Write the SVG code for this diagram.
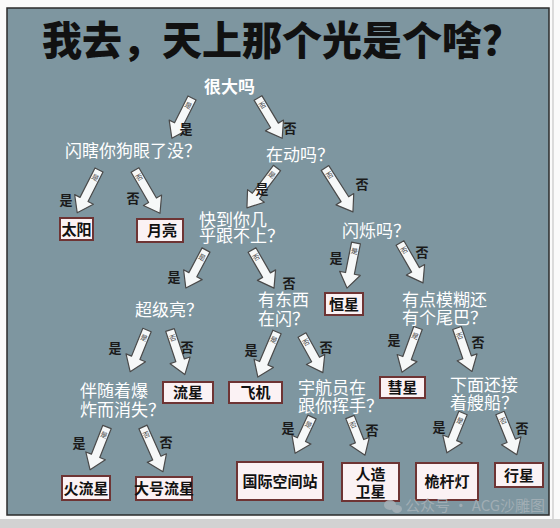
<svg xmlns="http://www.w3.org/2000/svg" width="560" height="528" viewBox="0 0 560 528">
<style>
.title{font-family:"Noto Sans CJK SC","Noto Sans",sans-serif;font-weight:900;font-size:40px;fill:#111}
.q{font-family:"Noto Sans CJK SC","Noto Sans",sans-serif;fill:#fff;font-size:17px}
.lb{font-family:"Noto Sans CJK SC","Noto Sans",sans-serif;font-weight:bold;font-size:13px;fill:#1a1a1a;text-anchor:middle}
.box rect{fill:#fbf2f4;stroke:#6e3434;stroke-width:2}
.box text{font-family:"Noto Sans CJK SC","Noto Sans",sans-serif;font-weight:bold;font-size:15px;fill:#111;text-anchor:middle}
.arw path{fill:#f6f8f8;stroke:#4a4a4a;stroke-width:1.2;stroke-linejoin:round}
.arw text{font-family:"Noto Sans CJK SC",sans-serif;font-size:7px;fill:#444;text-anchor:middle}
.wm{font-family:"Noto Sans CJK SC","Noto Sans",sans-serif;font-size:15px;fill:#a7b2b8}
</style>
<rect width="560" height="528" fill="#fafafa"/>
<rect x="0" y="519" width="560" height="9" fill="#d2d2d2"/>
<line x1="553" y1="0" x2="553" y2="519" stroke="#bbb" stroke-width="1"/>
<rect x="7" y="8" width="542" height="507" fill="#7e96a0" stroke="#2b2b2b" stroke-width="1.5"/>
<text class="title" x="42" y="55">我去，天上那个光是个啥？</text>

<g id="connectors" class="arw">
<g transform="translate(192,98) rotate(26.6)"><path d="M-4.5,0 H4.5 V30 H10.5 L0,45 L-10.5,30 H-4.5 Z"/><text y="11">是</text></g>
<g transform="translate(258,98) rotate(-31)"><path d="M-4.5,0 H4.5 V32 H10.5 L0,47 L-10.5,32 H-4.5 Z"/><text y="11">否</text></g>
<g transform="translate(99,170) rotate(27)"><path d="M-4.5,0 H4.5 V33 H10.5 L0,48 L-10.5,33 H-4.5 Z"/><text y="11">是</text></g>
<g transform="translate(135,170) rotate(-30)"><path d="M-4.5,0 H4.5 V35 H10.5 L0,50 L-10.5,35 H-4.5 Z"/><text y="11">否</text></g>
<g transform="translate(277,168) rotate(37)"><path d="M-4.5,0 H4.5 V35 H10.5 L0,50 L-10.5,35 H-4.5 Z"/><text y="11">是</text></g>
<g transform="translate(325,168) rotate(-32.5)"><path d="M-4.5,0 H4.5 V37 H10.5 L0,52 L-10.5,37 H-4.5 Z"/><text y="11">否</text></g>
<g transform="translate(356,243) rotate(11.3)"><path d="M-4.5,0 H4.5 V31 H10.5 L0,46 L-10.5,31 H-4.5 Z"/><text y="11">是</text></g>
<g transform="translate(400,243) rotate(-30)"><path d="M-4.5,0 H4.5 V31 H10.5 L0,46 L-10.5,31 H-4.5 Z"/><text y="11">否</text></g>
<g transform="translate(206,250) rotate(28)"><path d="M-4.5,0 H4.5 V28 H10.5 L0,43 L-10.5,28 H-4.5 Z"/><text y="11">是</text></g>
<g transform="translate(252,250) rotate(-30)"><path d="M-4.5,0 H4.5 V29 H10.5 L0,44 L-10.5,29 H-4.5 Z"/><text y="11">否</text></g>
<g transform="translate(147,330) rotate(22)"><path d="M-4.5,0 H4.5 V30 H10.5 L0,45 L-10.5,30 H-4.5 Z"/><text y="11">是</text></g>
<g transform="translate(170,330) rotate(-18.4)"><path d="M-4.5,0 H4.5 V32 H10.5 L0,47 L-10.5,32 H-4.5 Z"/><text y="11">否</text></g>
<g transform="translate(277,332) rotate(23)"><path d="M-4.5,0 H4.5 V34 H10.5 L0,49 L-10.5,34 H-4.5 Z"/><text y="11">是</text></g>
<g transform="translate(302,335) rotate(-29)"><path d="M-4.5,0 H4.5 V28 H10.5 L0,43 L-10.5,28 H-4.5 Z"/><text y="11">否</text></g>
<g transform="translate(418,328) rotate(20)"><path d="M-4.5,0 H4.5 V32 H10.5 L0,47 L-10.5,32 H-4.5 Z"/><text y="11">是</text></g>
<g transform="translate(457,328) rotate(-19)"><path d="M-4.5,0 H4.5 V31 H10.5 L0,46 L-10.5,31 H-4.5 Z"/><text y="11">否</text></g>
<g transform="translate(107,427) rotate(21.6)"><path d="M-4.5,0 H4.5 V31 H10.5 L0,46 L-10.5,31 H-4.5 Z"/><text y="11">是</text></g>
<g transform="translate(143,427) rotate(-24)"><path d="M-4.5,0 H4.5 V34 H10.5 L0,49 L-10.5,34 H-4.5 Z"/><text y="11">否</text></g>
<g transform="translate(312,417) rotate(25)"><path d="M-4.5,0 H4.5 V25 H10.5 L0,40 L-10.5,25 H-4.5 Z"/><text y="11">是</text></g>
<g transform="translate(350,417) rotate(-21.5)"><path d="M-4.5,0 H4.5 V26 H10.5 L0,41 L-10.5,26 H-4.5 Z"/><text y="11">否</text></g>
<g transform="translate(463,413) rotate(22)"><path d="M-4.5,0 H4.5 V28 H10.5 L0,43 L-10.5,28 H-4.5 Z"/><text y="11">是</text></g>
<g transform="translate(500,413) rotate(-22)"><path d="M-4.5,0 H4.5 V30 H10.5 L0,45 L-10.5,30 H-4.5 Z"/><text y="11">否</text></g>
</g>

<g id="labels">
<text class="lb" x="186" y="134">是</text>
<text class="lb" x="290" y="133">否</text>
<text class="lb" x="66" y="205">是</text>
<text class="lb" x="133" y="203">否</text>
<text class="lb" x="262" y="194">是</text>
<text class="lb" x="362" y="189">否</text>
<text class="lb" x="336" y="263">是</text>
<text class="lb" x="422" y="257">否</text>
<text class="lb" x="174" y="282">是</text>
<text class="lb" x="289" y="288">否</text>
<text class="lb" x="115" y="353">是</text>
<text class="lb" x="187" y="352">否</text>
<text class="lb" x="251" y="355">是</text>
<text class="lb" x="326" y="352">否</text>
<text class="lb" x="394" y="345">是</text>
<text class="lb" x="478" y="347">否</text>
<text class="lb" x="79" y="448">是</text>
<text class="lb" x="166" y="447">否</text>
<text class="lb" x="288" y="433">是</text>
<text class="lb" x="372" y="435">否</text>
<text class="lb" x="439" y="432">是</text>
<text class="lb" x="522" y="433">否</text>
</g>

<g id="q-big"><text class="q" x="204" y="93" font-size="15" font-weight="bold">很大吗</text></g>
<g id="q-blind"><text class="q" x="65" y="157" font-size="16">闪瞎你狗眼了没？</text></g>
<g id="q-moving"><text class="q" x="266" y="161">在动吗？</text></g>
<g id="q-fast"><text class="q" x="199" y="226" font-size="16">快到你几</text><text class="q" x="199" y="242" font-size="16">乎跟不上？</text></g>
<g id="q-twinkle"><text class="q" x="342" y="237">闪烁吗？</text></g>
<g id="q-bright"><text class="q" x="135" y="316">超级亮？</text></g>
<g id="q-flash"><text class="q" x="258" y="306" font-size="18">有东西</text><text class="q" x="258" y="325" font-size="18">在闪？</text></g>
<g id="q-tail"><text class="q" x="402" y="306" font-size="18">有点模糊还</text><text class="q" x="402" y="324" font-size="18">有个尾巴？</text></g>
<g id="q-explode"><text class="q" x="80" y="397" font-size="18">伴随着爆</text><text class="q" x="80" y="416" font-size="18">炸而消失？</text></g>
<g id="q-astronaut"><text class="q" x="298" y="394" font-size="16">宇航员在</text><text class="q" x="298" y="412" font-size="16">跟你挥手？</text></g>
<g id="q-ship"><text class="q" x="450" y="391" font-size="16">下面还接</text><text class="q" x="450" y="409" font-size="16">着艘船？</text></g>

<g id="a-sun" class="box"><rect x="60" y="218" width="33" height="22"/><text x="76.5" y="234.5">太阳</text></g>
<g id="a-moon" class="box"><rect x="137" y="219" width="46" height="23"/><text x="162" y="236">月亮</text></g>
<g id="a-star" class="box"><rect x="325" y="293" width="38" height="22"/><text x="344" y="309.5">恒星</text></g>
<g id="a-meteor" class="box"><rect x="163" y="382" width="50" height="21"/><text x="188" y="398">流星</text></g>
<g id="a-plane" class="box"><rect x="229" y="382" width="53" height="21"/><text x="255.5" y="398">飞机</text></g>
<g id="a-comet" class="box"><rect x="380" y="377" width="45" height="21"/><text x="402.5" y="393">彗星</text></g>
<g id="a-fireball" class="box"><rect x="62" y="476" width="48" height="24"/><text x="86" y="493.5">火流星</text></g>
<g id="a-bigmeteor" class="box"><rect x="136" y="477" width="56" height="23"/><text x="164" y="494">大号流星</text></g>
<g id="a-iss" class="box"><rect x="237" y="462" width="86" height="38"/><text x="280" y="486.5">国际空间站</text></g>
<g id="a-satellite" class="box"><rect x="342" y="463" width="57" height="38"/><text x="370.5" y="480">人造</text><text x="370.5" y="497">卫星</text></g>
<g id="a-mastlight" class="box"><rect x="416" y="463" width="62" height="37"/><text x="447" y="487">桅杆灯</text></g>
<g id="a-planet" class="box"><rect x="495" y="463" width="48" height="24"/><text x="519" y="480.5">行星</text></g>

<g id="watermark" opacity="0.85">
<ellipse cx="390" cy="505" rx="6" ry="5" fill="#a7b2b8"/>
<ellipse cx="397" cy="509" rx="5" ry="4" fill="#a7b2b8"/>
<text class="wm" x="405" y="511">公众号 · ACG沙雕图</text>
</g>
</svg>
